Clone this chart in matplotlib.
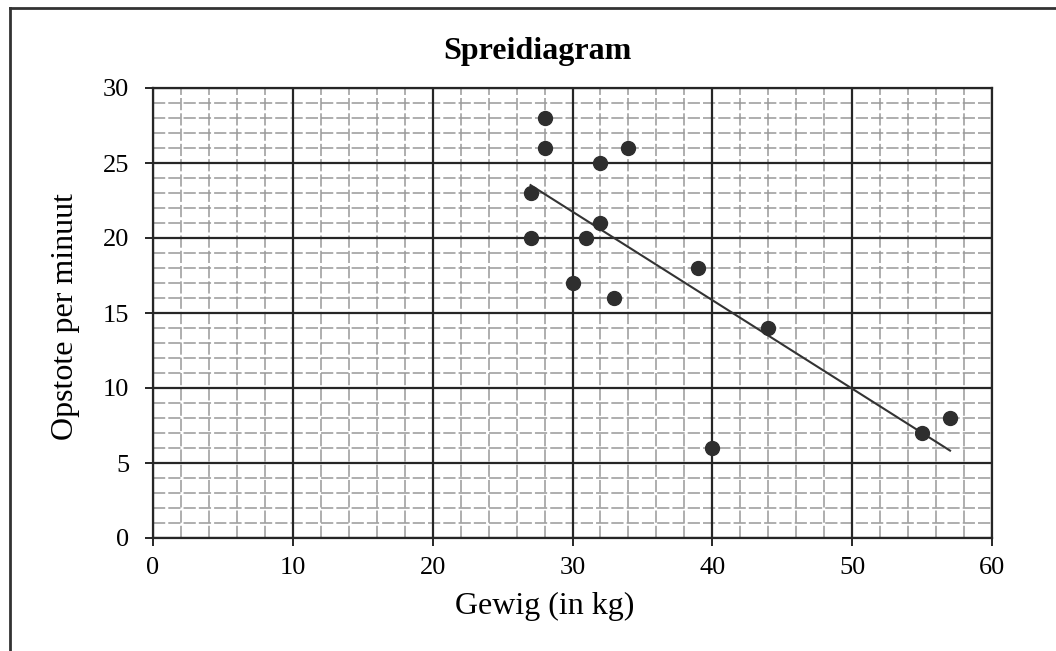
import numpy as np
import matplotlib
matplotlib.use("Agg")
import matplotlib.pyplot as plt
from matplotlib.lines import Line2D

# === DATA ===
gewig = [27, 28, 28, 32, 34, 27, 32, 31, 30, 33, 39, 44, 40, 55, 57]
opstote = [23, 28, 26, 25, 26, 20, 21, 20, 17, 16, 18, 14, 6, 7, 8]
x_ticks = [0, 10, 20, 30, 40, 50, 60]
y_ticks = [0, 5, 10, 15, 20, 25, 30]

plt.rcParams['font.family'] = ['Liberation Serif', 'DejaVu Serif']

# === FIGURE ===
fig = plt.figure(figsize=(10.56, 6.51), dpi=100)
ax = fig.add_axes([153 / 1056, 1 - 538 / 651, (992 - 153) / 1056, (538 - 88) / 651])

# grid: minor grey lines, major black lines
for v in np.arange(0, 61, 2):
    if v % 10:
        ax.axvline(v, color='0.6', lw=1.1, ls=(0, (8, 2)), zorder=1)
for v in np.arange(0, 31, 1):
    if v % 5:
        ax.axhline(v, color='0.6', lw=1.1, ls=(0, (8, 2)), zorder=1)
for v in x_ticks:
    ax.axvline(v, color='0.15', lw=1.6, zorder=2)
for v in y_ticks:
    ax.axhline(v, color='0.15', lw=1.6, zorder=2)

# data + trend line
ax.scatter(gewig, opstote, s=100, color='#2e2e2e', zorder=4)
k, b = np.polyfit(gewig, opstote, 1)
xs = np.array([min(gewig), max(gewig)])
ax.plot(xs, k * xs + b, color='#333333', lw=1.5, zorder=3)

ax.set_xlim(0, 60)
ax.set_ylim(0, 30)
ax.set_xticks(x_ticks)
ax.set_yticks(y_ticks)
ax.tick_params(direction='out', length=6, width=1.4, color='0.15', labelsize=19)
ax.tick_params(axis='x', pad=8)
ax.tick_params(axis='y', pad=11)
for s in ax.spines.values():
    s.set_linewidth(1.6)
    s.set_color('0.15')

# titles / labels
fig.text(537 / 1056, 1 - 52 / 651, 'Spreidiagram', ha='center', va='center',
         fontsize=23, fontweight='bold')
fig.text(545 / 1056, 1 - 606 / 651, 'Gewig (in kg)', ha='center', va='center', fontsize=23)
fig.text(66 / 1056, 1 - 316 / 651, 'Opstote per minuut', ha='center', va='center',
         rotation=90, fontsize=23)

# outer frame (only top and left are visible in the reference)
fig.add_artist(Line2D([10 / 1056, 10 / 1056], [0, 1 - 8 / 651], transform=fig.transFigure,
                      color='0.2', lw=2))
fig.add_artist(Line2D([10 / 1056, 1], [1 - 8 / 651, 1 - 8 / 651], transform=fig.transFigure,
                      color='0.2', lw=2))

fig.savefig('out.png', dpi=100)
